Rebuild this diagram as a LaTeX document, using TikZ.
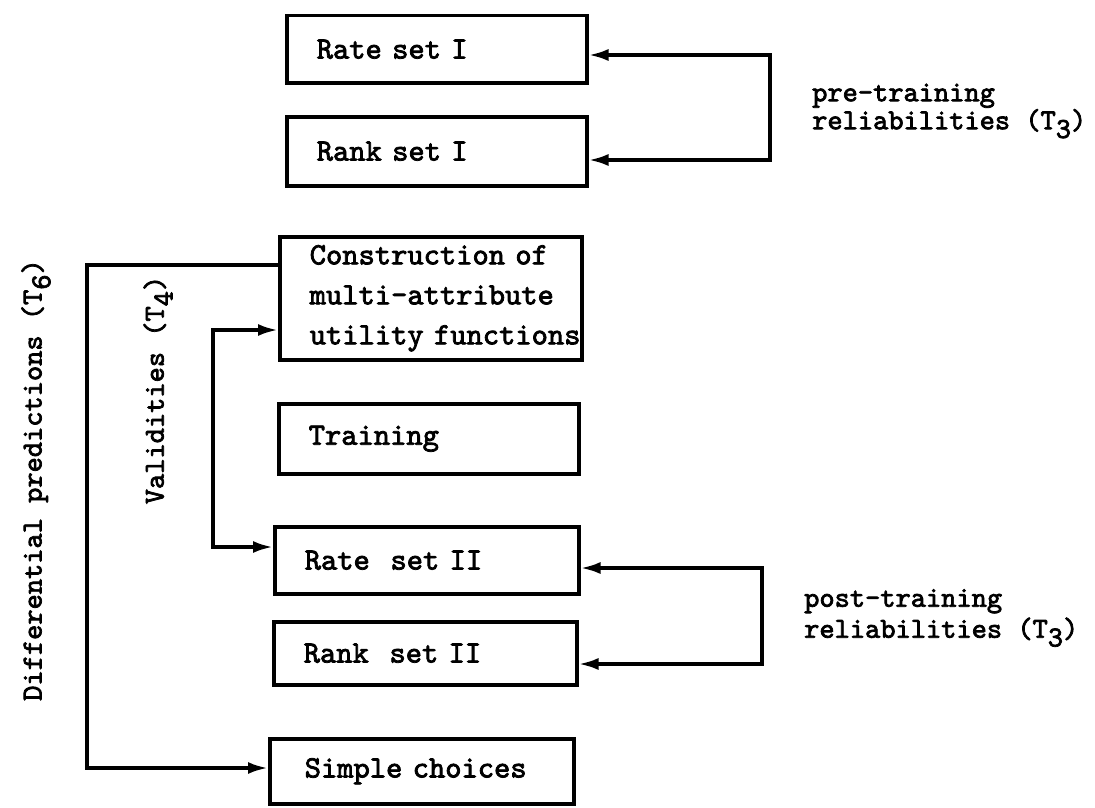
\documentclass[tikz,border=0pt]{standalone}
\usepackage{fontspec}
\usetikzlibrary{arrows.meta}
% heavy typewriter face
\newfontfamily\tw{lmmono10-regular.otf}[FakeBold=2.5]
\newcommand\sub[1]{\raisebox{-0.7ex}{\fontsize{29}{29}\selectfont #1}}
\newcommand\ind{\hspace*{30pt}}
\begin{document}
\begin{tikzpicture}[x=1pt,y=-1pt,
  box/.style={draw, line width=3.5pt, rectangle, anchor=north west, align=left,
    inner xsep=0pt, inner ysep=0pt, text width=#1, font=\tw\fontsize{31}{40}\selectfont},
  link/.style={line width=3.5pt},
  tipA/.style={-{Latex[length=20pt,width=12pt]}},
  tipAB/.style={{Latex[length=20pt,width=12pt]}-{Latex[length=20pt,width=12pt]}},
  lab/.style={font=\tw\fontsize{29}{31}\selectfont, align=left, anchor=west, inner sep=0pt},
  vlab/.style={font=\tw\fontsize{29}{31}\selectfont, rotate=90, inner sep=0pt}]
\useasboundingbox (0,0) rectangle (1095,808);

% boxes
\node[box=300pt, minimum height=67pt] (r1) at (285,14) {\ind Rate set I};
\node[box=300pt, minimum height=69pt] (r2) at (285,115) {\ind Rank set I};
\node[box=302pt, minimum height=123pt] (con) at (278,235)
  {\ind Construction~of\\\ind multi-attribute\\\ind utility~functions};
\node[box=300pt, minimum height=70pt] (tr) at (277,402) {\ind Training};
\node[box=304pt, minimum height=67pt] (r3) at (273,525) {\ind Rate~~set~II};
\node[box=303pt, minimum height=63pt] (r4) at (272,620) {\ind Rank~~set~II};
\node[box=304pt, minimum height=65pt] (sc) at (268,737) {\hspace*{35pt}Simple~choices};

% labels
\node[lab] (pre) at (812,111) {pre-training\\[-3pt]reliabilities (T\sub{3})};
\node[lab] (post) at (804,618) {post-training\\reliabilities (T\sub{3})};
\node[vlab] (val) at (158,390) {Validities (T\sub{4})};
\node[vlab] (diff) at (36,480) {Differential predictions (T\sub{6})};

% corner points of the connectors
\coordinate (t1) at (770,55);
\coordinate (t2) at (770,160);
\coordinate (p1) at (762,568);
\coordinate (p2) at (762,664);
\coordinate (i1) at (213,330);
\coordinate (i2) at (213,547);
\coordinate (o1) at (87,265);
\coordinate (o2) at (87,768);

% connectors
\draw[link, tipAB] (r1.east |- t1) -- (t1) -- (t2) -- (r2.east |- t2);
\draw[link, tipAB] (r3.east |- p1) -- (p1) -- (p2) -- (r4.east |- p2);
\draw[link, tipAB] (con.west |- i1) -- (i1) -- (i2) -- (r3.west |- i2);
\draw[link, tipA] (con.west |- o1) -- (o1) -- (o2) -- (sc.west |- o2);
\end{tikzpicture}
\end{document}
